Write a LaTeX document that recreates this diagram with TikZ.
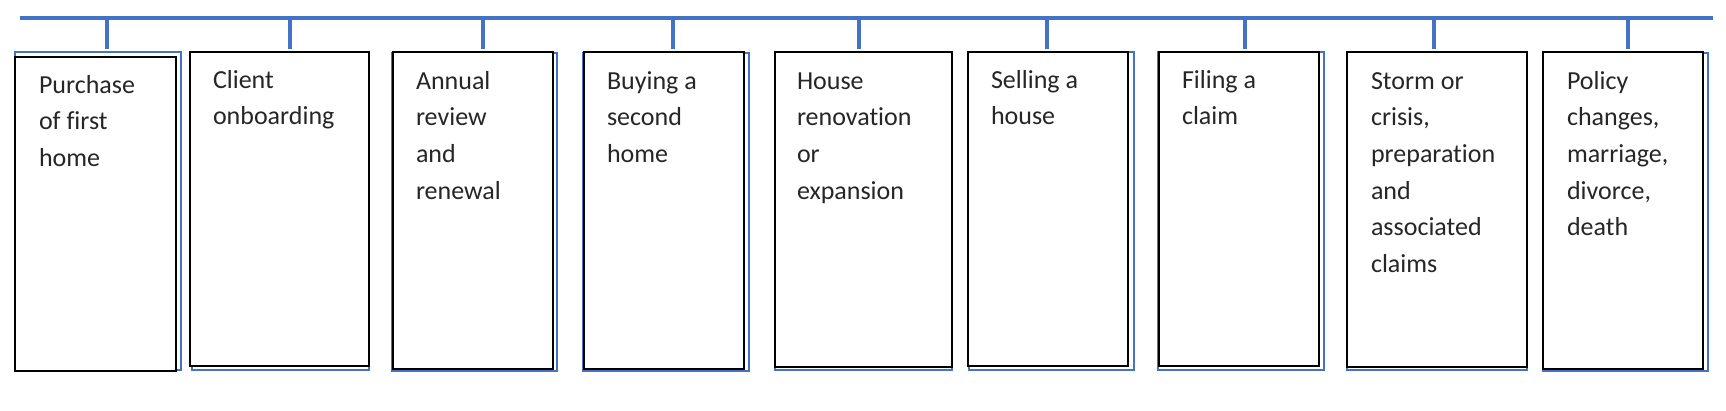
\documentclass[tikz,border=0pt]{standalone}
\usepackage{fontspec}
\setmainfont{Carlito}[Ligatures=CommonOff]
\definecolor{offblue}{HTML}{4472C4}
\newcommand\mystage[9]{%
  \draw[shadowline] (#6,#7) rectangle (#8,#9);
  \node[bbox, anchor=north west, minimum width={#4-#2}, minimum height={#5-#3}] (#1) at (#2,#3) {};
}
\begin{document}
\begin{tikzpicture}[x=1pt,y=-1pt,
  bbox/.style={draw=black, line width=1.4pt, fill=white, inner sep=0pt, outer sep=0pt},
  shadowline/.style={draw=offblue, line width=1.2pt},
  mainline/.style={draw=offblue, line width=3.4pt},
  tickline/.style={draw=offblue, line width=3.2pt},
  lbl/.style={inner sep=0pt, outer sep=0pt, font=\fontsize{26}{36.7}\selectfont, text=black!85}]
\useasboundingbox[fill=white] (0,0) rectangle (1726,410);
% main line
\coordinate (L) at (20,18);
\coordinate (R) at (1713,18);
\draw[mainline] (L) -- (R);
% boxes
\mystage{b1}{15}{57}{176}{371}{15}{52}{181}{370}
\mystage{b2}{190}{52}{369}{366}{192}{56}{369}{370}
\mystage{b3}{393}{52}{553}{369}{392}{53}{557}{371}
\mystage{b4}{584}{52}{744}{369}{583}{53}{749}{371}
\mystage{b5}{775}{52}{952}{367}{775}{56}{952}{370}
\mystage{b6}{968}{52}{1128}{366}{969}{52}{1134}{370}
\mystage{b7}{1159}{52}{1319}{366}{1158}{52}{1324}{370}
\mystage{b8}{1347}{52}{1527}{367}{1347}{56}{1527}{370}
\mystage{b9}{1543}{52}{1703}{369}{1543}{53}{1708}{371}
% ticks
\coordinate (e) at (0,49);
\foreach \n/\x in {1/107,2/290,3/483,4/673,5/859,6/1047,7/1245,8/1434,9/1628}{
  \coordinate (k\n) at (\x,18);
  \draw[tickline] (k\n) -- (k\n |- e);
}
% labels
\node[lbl, anchor=base west] (t1) at (39,93) {\parbox[t]{140pt}{Purchase\\of first\\home}};
\node[lbl, anchor=base west] (t2) at (213,88) {\parbox[t]{150pt}{Client\\onboarding}};
\node[lbl, anchor=base west] (t3) at (416,89) {\parbox[t]{140pt}{Annual\\review\\and\\renewal}};
\node[lbl, anchor=base west] (t4) at (607,89) {\parbox[t]{140pt}{Buying a\\second\\home}};
\node[lbl, anchor=base west] (t5) at (797,89) {\parbox[t]{150pt}{House\\renovation\\or\\expansion}};
\node[lbl, anchor=base west] (t6) at (991,88) {\parbox[t]{140pt}{Selling a\\house}};
\node[lbl, anchor=base west] (t7) at (1182,88) {\parbox[t]{140pt}{Filing a\\claim}};
\node[lbl, anchor=base west] (t8) at (1371,89) {\parbox[t]{150pt}{Storm or\\crisis,\\preparation\\and\\associated\\claims}};
\node[lbl, anchor=base west] (t9) at (1567,89) {\parbox[t]{140pt}{Policy\\changes,\\marriage,\\divorce,\\death}};
\end{tikzpicture}
\end{document}
